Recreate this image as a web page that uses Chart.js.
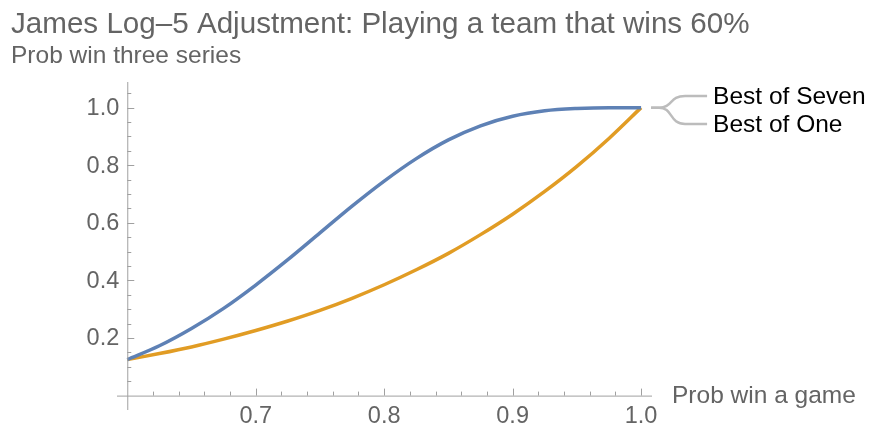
<!DOCTYPE html>
<html>
<head>
<meta charset="utf-8">
<script src="https://cdn.jsdelivr.net/npm/chart.js@4"></script>
<style>
  html, body { margin: 0; padding: 0; background: #fff; }
  #wrap { width: 869px; height: 430px; position: relative; }
</style>
</head>
<body>
<div id="wrap"><canvas id="logChart"></canvas></div>
<script>
// data
const pGame      = [0.6, 0.625, 0.65, 0.675, 0.7, 0.725, 0.75, 0.775, 0.8, 0.825, 0.85, 0.875, 0.9, 0.925, 0.95, 0.975, 1.0];
const bestOfSeven = [0.125, 0.173, 0.233, 0.303, 0.384, 0.472, 0.565, 0.658, 0.745, 0.823, 0.888, 0.937, 0.970, 0.989, 0.997, 1.000, 1.000];
const bestOfOne   = [0.125, 0.146, 0.169, 0.196, 0.226, 0.259, 0.296, 0.338, 0.385, 0.437, 0.494, 0.559, 0.630, 0.709, 0.796, 0.893, 1.000];

const seriesNames = ['Best of Seven', 'Best of One'];
const xMajorTicks = [0.7, 0.8, 0.9, 1.0];
const yMajorTicks = [0.2, 0.4, 0.6, 0.8, 1.0];
const xMinorStep = 0.02;
const yMinorStep = 0.05;

const titleText = 'James Log\u20135 Adjustment: Playing a team that wins 60%';
const subtitleText = 'Prob win three series';
const xAxisText = 'Prob win a game';

const FONT = '"Liberation Sans", Arial, sans-serif';
const TEXT_GRAY = '#646464';
const AXIS_GRAY = '#a0a0a0';

const toPoints = (ys) => pGame.map((x, i) => ({ x: x, y: ys[i] }));

// axes, ticks, titles and the labelled legend are drawn here
const framePlugin = {
    id: 'frame',
    afterDraw(chart) {
        const ctx = chart.ctx;
        const xs = chart.scales.x, ys = chart.scales.y;
        const x0 = xs.getPixelForValue(0.6);
        const y0 = ys.getPixelForValue(0);
        const area = chart.chartArea;

        ctx.save();
        ctx.strokeStyle = AXIS_GRAY;
        ctx.lineWidth = 1;

        // axis lines
        ctx.beginPath();
        ctx.moveTo(area.left, y0 + 0.5); ctx.lineTo(area.right, y0 + 0.5);
        ctx.moveTo(x0 + 0.5, area.top); ctx.lineTo(x0 + 0.5, area.bottom);
        ctx.stroke();

        // x ticks (pointing up into the plot)
        ctx.beginPath();
        for (let i = 1; i <= 20; i++) {
            const v = 0.6 + i * xMinorStep;
            const px = Math.round(xs.getPixelForValue(v)) + 0.5;
            const major = xMajorTicks.some(t => Math.abs(t - v) < 1e-6);
            ctx.moveTo(px, y0); ctx.lineTo(px, y0 - (major ? 7 : 4));
        }
        // y ticks (pointing right into the plot)
        for (let i = 1; i <= 21; i++) {
            const v = i * yMinorStep;
            const py = Math.round(ys.getPixelForValue(v)) + 0.5;
            const major = yMajorTicks.some(t => Math.abs(t - v) < 1e-6);
            ctx.moveTo(x0, py); ctx.lineTo(x0 + (major ? 7 : 4), py);
        }
        ctx.stroke();

        // tick labels
        ctx.fillStyle = TEXT_GRAY;
        ctx.font = '23.5px ' + FONT;
        ctx.textAlign = 'center';
        ctx.textBaseline = 'alphabetic';
        xMajorTicks.forEach(t => ctx.fillText(t.toFixed(1), xs.getPixelForValue(t), 423));
        ctx.textAlign = 'right';
        ctx.textBaseline = 'middle';
        yMajorTicks.forEach(t => ctx.fillText(t.toFixed(1), x0 - 8, ys.getPixelForValue(t) + 1));

        // axis label
        ctx.font = '24.5px ' + FONT;
        ctx.textAlign = 'left';
        ctx.textBaseline = 'alphabetic';
        ctx.fillText(xAxisText, 672, 403);

        // title + subtitle
        ctx.font = '29.6px ' + FONT;
        ctx.fillText(titleText, 11, 33);
        ctx.font = '24.5px ' + FONT;
        ctx.fillText(subtitleText, 11, 63);

        // legend connector
        const ax = xs.getPixelForValue(1.0) + 10;
        const ay = ys.getPixelForValue(1.0);
        const labelY = [96, 124];
        ctx.strokeStyle = '#bcbcbc';
        ctx.lineWidth = 2.5;
        labelY.forEach(ly => {
            ctx.beginPath();
            ctx.moveTo(ax, ay);
            ctx.lineTo(ax + 8, ay);
            ctx.bezierCurveTo(ax + 22, ay, ax + 18, ly, ax + 34, ly);
            ctx.lineTo(ax + 56, ly);
            ctx.stroke();
        });
        ctx.fillStyle = '#000';
        ctx.font = '24.5px ' + FONT;
        ctx.textBaseline = 'middle';
        seriesNames.forEach((name, i) => ctx.fillText(name, ax + 62, labelY[i] + 1));

        ctx.restore();
    }
};

new Chart(document.getElementById('logChart').getContext('2d'), {
    type: 'line',
    data: {
        datasets: [
            { label: seriesNames[0], data: toPoints(bestOfSeven), borderColor: '#5e81b5', borderWidth: 3.5,
              pointRadius: 0, fill: false, cubicInterpolationMode: 'monotone' },
            { label: seriesNames[1], data: toPoints(bestOfOne), borderColor: '#e19c24', borderWidth: 3.5,
              pointRadius: 0, fill: false, cubicInterpolationMode: 'monotone' }
        ]
    },
    options: {
        responsive: true,
        maintainAspectRatio: false,
        animation: false,
        layout: { padding: { left: 117, right: 217, top: 82, bottom: 20 } },
        scales: {
            x: { type: 'linear', min: 0.592, max: 1.0085, display: false },
            y: { type: 'linear', min: -0.05, max: 1.089, display: false }
        },
        plugins: {
            legend: { display: false },
            tooltip: { enabled: false }
        }
    },
    plugins: [framePlugin]
});
</script>
</body>
</html>
